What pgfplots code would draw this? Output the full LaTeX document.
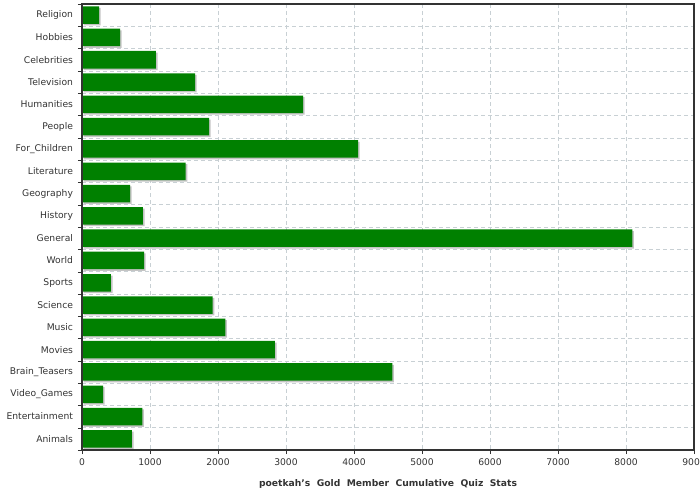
\documentclass[border=0pt]{standalone}
\usepackage{pgfplots}
\pgfplotsset{compat=1.18}
\usepackage{pgfplotstable}
\usepackage{fontspec}
\setmainfont{DejaVu Sans}

\definecolor{bargreen}{RGB}{0,128,0}
\definecolor{shadowgray}{RGB}{196,196,196}
\definecolor{gridc}{RGB}{200,208,212}
\definecolor{framec}{RGB}{51,51,51}

% top to bottom, as in the chart
\pgfplotstableread{
idx cat count
0 Religion 250
1 Hobbies 559
2 Celebrities 1088
3 Television 1662
4 Humanities 3250
5 People 1868
6 For\_Children 4060
7 Literature 1525
8 Geography 706
9 History 897
10 General 8093
11 World 912
12 Sports 426
13 Science 1922
14 Music 2108
15 Movies 2838
16 Brain\_Teasers 4564
17 Video\_Games 309
18 Entertainment 887
19 Animals 735
}\quizstats

\begin{document}
\begin{tikzpicture}
\path[use as bounding box] (0,0) rectangle (700pt,500pt);
\begin{axis}[
  name=ax,
  at={(82pt,50pt)}, anchor=south west,
  scale only axis, width=612pt, height=446pt,
  xbar, bar width=17.5pt,
  xmin=0, xmax=9000,
  ymin=-0.5, ymax=19.5, y dir=reverse,
  xtick={0,1000,...,9000},
  ytick={0,...,19},
  yticklabels from table={\quizstats}{cat},
  minor ytick={-0.5,0.5,...,19.5},
  major y tick style={draw=none},
  minor y tick style={framec},
  minor tick length=4pt,
  major tick length=4pt,
  tick align=outside,
  xtick pos=bottom, ytick pos=left,
  xmajorgrids, yminorgrids,
  grid style={gridc, dashed, line width=0.6pt, dash pattern=on 4pt off 3pt},
  axis line style={framec, line width=1pt},
  x tick style={framec},
  /pgf/number format/assume math mode=true,
  /pgf/number format/set thousands separator={},
  scaled x ticks=false,
  tick label style={font=\fontsize{9.2}{11}\selectfont, text=framec},
  yticklabel style={xshift=-1.5pt},
  xticklabel style={yshift=-1pt},
  xlabel={\bfseries poetkah's\ \ Gold\ \ Member\ \ Cumulative\ \ Quiz\ \ Stats},
  xlabel style={font=\fontsize{9.2}{11}\selectfont, text=framec, yshift=-7pt},
]
\addplot[fill=bargreen, draw=none,
  preaction={fill=shadowgray, transform canvas={xshift=1.6pt, yshift=-1.6pt}}]
  table[x=count, y=idx] {\quizstats};
\end{axis}
\draw[framec, line width=1.2pt] (ax.south west) rectangle (ax.north east);
\end{tikzpicture}
\end{document}
